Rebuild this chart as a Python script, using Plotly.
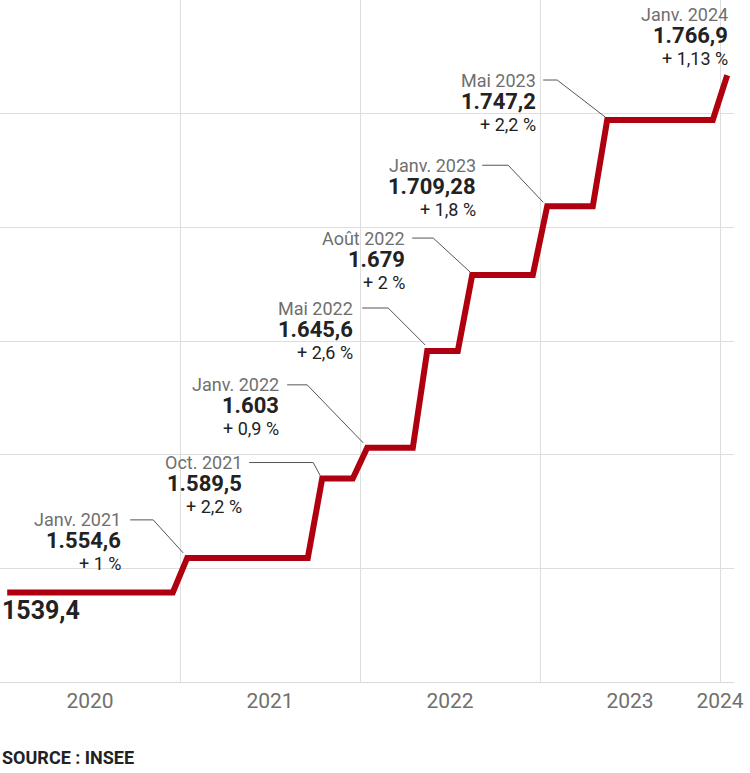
import plotly.graph_objects as go

# ---- data ----
dates = [2020.0, 2021.0, 2021.75, 2022.0, 2022 + 4/12, 2022 + 7/12, 2023.0, 2023 + 4/12, 2024.0]
values = [1539.4, 1554.6, 1589.5, 1603, 1645.6, 1679, 1709.28, 1747.2, 1766.9]
month_labels = ["", "Janv. 2021", "Oct. 2021", "Janv. 2022", "Mai 2022", "Août 2022",
                "Janv. 2023", "Mai 2023", "Janv. 2024"]
value_labels = ["1539,4", "1.554,6", "1.589,5", "1.603", "1.645,6", "1.679",
                "1.709,28", "1.747,2", "1.766,9"]
pct_labels = ["", "+ 1 %", "+ 2,2 %", "+ 0,9 %", "+ 2,6 %", "+ 2 %", "+ 1,8 %", "+ 2,2 %", "+ 1,13 %"]
year_labels = ["2020", "2021", "2022", "2023", "2024"]
years = [2020, 2021, 2022, 2023, 2024]
y_grid = [1550, 1600, 1650, 1700, 1750]

# ---- style ----
RED = "#b0000f"
RAMP = 0.04  # half-width of the step ramps (years)
FONT = "Roboto"
# label offsets in px relative to top of each step:
# (text right dx, month line dy (down), leader start dx, bend dx, end dx, end dy)
label_style = [
    None,
    (-64, -38, -57, -34, -4, -5),
    (-78, -16, -73, -9, -2, -3),
    (-86, -63, -80, -60, -4, -5),
    (-72, -43, -65, -39, -2, -6),
    (-65, -37, -60, -39, -2, -3),
    (-69, -41, -65, -39, -4, -4),
    (-69, -40, -64, -50, -2, -3),
    (3, -61, None, None, None, None),
]

# step path built from data
xs = [dates[0] + RAMP]
ys = [values[0]]
for i in range(1, len(dates)):
    xs += [dates[i] - RAMP, dates[i] + RAMP]
    ys += [values[i - 1], values[i]]

fig = go.Figure()
fig.add_trace(go.Scatter(x=xs, y=ys, mode="lines",
                         line=dict(color=RED, width=6), hoverinfo="skip", showlegend=False))

annotations = []
shapes = []
for i in range(1, len(dates)):
    tx = dates[i] + RAMP
    ty = values[i]
    dx, dy, sx, bx, ex, ey = label_style[i]
    common = dict(x=tx, y=ty, xref="x", yref="y", xanchor="right", yanchor="middle",
                  showarrow=False, xshift=dx)
    annotations.append(dict(common, text=month_labels[i], yshift=-dy,
                            font=dict(family=FONT, size=18, color="#6f6f6f")))
    annotations.append(dict(common, text="<b>" + value_labels[i] + "</b>", yshift=-(dy + 21),
                            font=dict(family=FONT, size=22, color="#222222")))
    annotations.append(dict(common, text=pct_labels[i], yshift=-(dy + 44),
                            font=dict(family=FONT, size=18, color="#222222")))
    if sx is not None:
        path = f"M{sx},{-dy} L{bx},{-dy} L{ex},{-ey}"
        shapes.append(dict(type="path", xsizemode="pixel", ysizemode="pixel",
                           xanchor=tx, yanchor=ty, xref="x", yref="y", path=path,
                           line=dict(color="#555555", width=1)))

# starting value label
annotations.append(dict(x=dates[0] + RAMP, y=values[0], xref="x", yref="y",
                        xanchor="left", yanchor="middle", showarrow=False,
                        xshift=-7, yshift=-18,
                        text="<b>" + value_labels[0] + "</b>",
                        font=dict(family=FONT, size=25, color="#222222")))

# source
annotations.append(dict(x=0, y=-0.11, xref="paper", yref="paper", xanchor="left",
                        yanchor="middle", showarrow=False,
                        text="<b>SOURCE : INSEE</b>",
                        font=dict(family=FONT, size=18, color="#222222")))

tick_pos = [y + 0.5 if y < years[-1] else y for y in years]

fig.update_layout(
    width=750, height=773,
    margin=dict(l=0, r=16, t=0, b=91),
    paper_bgcolor="white", plot_bgcolor="white",
    xaxis=dict(range=[2020, 2020 + 734 / 180], tickvals=tick_pos, ticktext=year_labels,
               showgrid=False, zeroline=False, showline=True, linecolor="#dadada", linewidth=1,
               ticks="", tickfont=dict(family=FONT, size=21, color="#707070"),
               minor=dict(tickvals=years[1:], showgrid=True, gridcolor="#dedede", gridwidth=1)),
    yaxis=dict(range=[1500, 1800], tickvals=y_grid, showticklabels=False,
               showgrid=True, gridcolor="#dedede", gridwidth=1, zeroline=False, ticks=""),
    annotations=annotations,
    shapes=shapes,
)

fig.write_html("out.html", config={"displayModeBar": False},
               post_script="document.body.style.margin='0';")
